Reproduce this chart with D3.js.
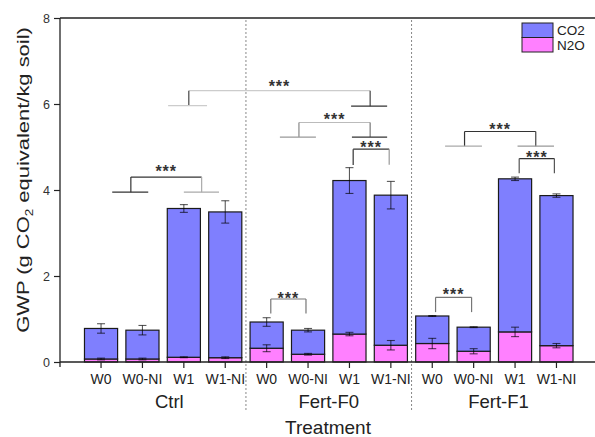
<!DOCTYPE html>
<html>
<head>
<meta charset="utf-8">
<script src="https://cdn.jsdelivr.net/npm/d3@7/dist/d3.min.js"></script>
<style>
  html, body { margin: 0; padding: 0; background: #fff; }
  svg { display: block; font-family: "Liberation Sans", Arial, sans-serif; }
</style>
</head>
<body>
<svg id="chart" width="595" height="437"></svg>
<script>
// Fertiliser groups and water / nitrification-inhibitor treatments
const groups = ["Ctrl", "Fert-F0", "Fert-F1"];
const treatments = ["W0", "W0-NI", "W1", "W1-NI"];

// GWP components (g CO2 equivalent / kg soil), one value per bar, groups in order
const co2Values = [0.71, 0.67, 3.46, 3.39, 0.61, 0.56, 3.57, 3.49, 0.64, 0.56, 3.56, 3.49];
const n2oValues = [0.07, 0.07, 0.11, 0.10, 0.32, 0.18, 0.65, 0.39, 0.43, 0.25, 0.70, 0.38];
// Standard errors: total GWP (top of stack) and the N2O part
const totalErr = [0.11, 0.11, 0.09, 0.26, 0.10, 0.04, 0.30, 0.32, 0.01, 0.01, 0.04, 0.04];
const n2oErr = [0.02, 0.02, 0.01, 0.02, 0.08, 0.02, 0.04, 0.11, 0.12, 0.06, 0.11, 0.05];

const yTicks = [0, 2, 4, 6, 8];
const seriesNames = ["N2O", "CO2"];

// Significance brackets, positioned in bar-index units (x) and GWP units (y)
// legs: [left, right] bar positions; top: bracket height; bottom: leg ends
// feet: short horizontal bars under the legs (group means)
const brackets = [
  { legs: [0.72, 2.43], top: 4.30, bottom: [3.95, 3.95], label: 4.53,
    feet: [[0.27, 1.14, "#333"], [2.0, 2.85, "#aaa"]], line: "#333", legCol: ["#333", "#aaa"] },
  { legs: [2.12, 6.50], top: 6.31, bottom: [5.96, 5.95], label: 6.50,
    feet: [[1.62, 2.56, "#ccc"], [6.04, 6.91, "#333"]], line: "#ccc", legCol: ["#444", "#444"] },
  { legs: [4.78, 6.50], top: 5.57, bottom: [5.23, 5.23], label: 5.73,
    feet: [[4.32, 5.19, "#999"], [6.06, 6.91, "#333"]], line: "#bbb", legCol: ["#888", "#777"] },
  { legs: [6.09, 6.96], top: 4.95, bottom: [4.58, 4.59], label: 5.07,
    feet: [], line: "#333", legCol: ["#333", "#999"] },
  { legs: [4.10, 4.95], top: 1.465, bottom: [1.13, 1.13], label: 1.58,
    feet: [], line: "#777", legCol: ["#777", "#777"] },
  { legs: [8.78, 10.50], top: 5.36, bottom: [5.02, 5.02], label: 5.51,
    feet: [[8.31, 9.20, "#aaa"], [10.06, 10.94, "#999"]], line: "#333", legCol: ["#333", "#444"] },
  { legs: [10.10, 10.95], top: 4.73, bottom: [4.39, 4.39], label: 4.85,
    feet: [], line: "#333", legCol: ["#555", "#555"] },
  { legs: [8.08, 8.95], top: 1.505, bottom: [1.16, 1.16], label: 1.66,
    feet: [], line: "#777", legCol: ["#777", "#777"] }
];

// where each group name sits, in bar-index units from the group's first bar
const groupLabelOffset = [1.65, 1.5, 1.6];

const colors = { CO2: "#7f7ffe", N2O: "#ff80ff" };

const svg = d3.select("#chart");
const margin = { left: 60, top: 18, bottom: 362 };
const width = 595;

// one row per bar
const rows = [];
groups.forEach((g, gi) => treatments.forEach((t, ti) => {
  const i = gi * treatments.length + ti;
  rows.push({ key: g + "|" + t, group: g, treat: t, CO2: co2Values[i], N2O: n2oValues[i],
              err: totalErr[i], n2oErr: n2oErr[i] });
}));

const x = d3.scaleBand()
  .domain(rows.map(d => d.key))
  .range([76.2, 581.3])
  .paddingInner(0.2)
  .paddingOuter(0.2);

const y = d3.scaleLinear().domain([0, 8]).range([margin.bottom, margin.top]);

const xCenter = f => x(rows[0].key) + x.bandwidth() / 2 + f * x.step();

// top frame line
svg.append("line").attr("x1", margin.left).attr("x2", width + 5)
  .attr("y1", y(8)).attr("y2", y(8)).attr("stroke", "#222").attr("stroke-width", 1.3);

// dotted group separators
for (let gi = 1; gi < groups.length; gi++) {
  const xs = xCenter(gi * treatments.length - 0.5);
  svg.append("line").attr("x1", xs).attr("x2", xs)
    .attr("y1", y(8) + 2).attr("y2", 410)
    .attr("stroke", "#888").attr("stroke-width", 1).attr("stroke-dasharray", "2,2");
}

// stacked bars
const stack = d3.stack().keys(seriesNames)(rows);
const barG = svg.append("g");
stack.forEach(layer => {
  barG.selectAll(null).data(layer).join("rect")
    .attr("x", d => x(d.data.key))
    .attr("width", x.bandwidth())
    .attr("y", d => y(d[1]))
    .attr("height", d => y(d[0]) - y(d[1]))
    .attr("fill", colors[layer.key])
    .attr("stroke", "#1a1a1a")
    .attr("stroke-width", 1.2);
});

// error bars
const errG = svg.append("g").attr("stroke", "#000").attr("stroke-opacity", 0.65).attr("stroke-width", 1.1);
function errBar(cx, v, e) {
  const cap = 4;
  errG.append("line").attr("x1", cx).attr("x2", cx).attr("y1", y(v - e)).attr("y2", y(v + e));
  errG.append("line").attr("x1", cx - cap).attr("x2", cx + cap).attr("y1", y(v + e)).attr("y2", y(v + e));
  errG.append("line").attr("x1", cx - cap).attr("x2", cx + cap).attr("y1", y(v - e)).attr("y2", y(v - e));
}
rows.forEach(d => {
  const cx = x(d.key) + x.bandwidth() / 2;
  errBar(cx, d.CO2 + d.N2O, d.err);
  errBar(cx, d.N2O, d.n2oErr);
});

// y axis
const yAxis = svg.append("g").attr("transform", `translate(${margin.left},0)`)
  .call(d3.axisLeft(y).tickValues(yTicks).tickSize(6).tickSizeOuter(0).tickPadding(4));
yAxis.select(".domain").attr("stroke", "#222").attr("stroke-width", 1.3)
  .attr("d", `M0,${y(8)}V${y(0) + 5}`);
yAxis.selectAll(".tick line").attr("stroke", "#222").attr("stroke-width", 1.2);
yAxis.selectAll(".tick text").attr("font-size", 12.5).attr("fill", "#333")
  .attr("font-family", "Liberation Sans, Arial, sans-serif");

// x axis
const xAxis = svg.append("g").attr("transform", `translate(0,${margin.bottom})`)
  .call(d3.axisBottom(x).tickSize(6).tickSizeOuter(0).tickPadding(6)
    .tickFormat(k => k.split("|")[1]));
xAxis.select(".domain").attr("stroke", "#222").attr("stroke-width", 1.3)
  .attr("d", `M${margin.left},0H${width + 5}`);
xAxis.selectAll(".tick line").attr("stroke", "#222").attr("stroke-width", 1.2);
xAxis.selectAll(".tick text").attr("font-size", 14).attr("fill", "#222")
  .attr("font-family", "Liberation Sans, Arial, sans-serif");

// group labels
groups.forEach((g, gi) => {
  svg.append("text")
    .attr("x", xCenter(gi * treatments.length + groupLabelOffset[gi]))
    .attr("y", 408)
    .attr("text-anchor", "middle")
    .attr("font-size", 18.5).attr("fill", "#222")
    .text(g);
});

// axis titles
svg.append("text")
  .attr("x", 328).attr("y", 434)
  .attr("text-anchor", "middle").attr("font-size", 19).attr("fill", "#222")
  .text("Treatment");

// y title: drawn at 17px, then stretched along its run to span the axis
const yTitle = svg.append("text")
  .attr("text-anchor", "middle").attr("font-size", 17).attr("fill", "#222");
yTitle.append("tspan").text("GWP (g CO");
yTitle.append("tspan").attr("font-size", 10.5).attr("dy", 4).text("2");
yTitle.append("tspan").attr("dy", -4).text(" equivalent/kg soil)");
const titleLen = yTitle.node().getBBox().width;
const stretch = 306 / titleLen;
yTitle.attr("transform", `translate(29,180) rotate(-90) scale(${stretch},1)`);

// significance brackets
const brG = svg.append("g").attr("fill", "none").attr("stroke-width", 1.2);
brackets.forEach(b => {
  const [l, r] = b.legs.map(xCenter);
  brG.append("line").attr("x1", l).attr("x2", r).attr("y1", y(b.top)).attr("y2", y(b.top)).attr("stroke", b.line);
  brG.append("line").attr("x1", l).attr("x2", l).attr("y1", y(b.top)).attr("y2", y(b.bottom[0])).attr("stroke", b.legCol[0]);
  brG.append("line").attr("x1", r).attr("x2", r).attr("y1", y(b.top)).attr("y2", y(b.bottom[1])).attr("stroke", b.legCol[1]);
  b.feet.forEach(([a, c, col], k) => {
    const yy = y(b.bottom[k]);
    brG.append("line").attr("x1", xCenter(a)).attr("x2", xCenter(c)).attr("y1", yy).attr("y2", yy).attr("stroke", col);
  });
  svg.append("text")
    .attr("x", (l + r) / 2).attr("y", y(b.label) + 9.5)
    .attr("text-anchor", "middle").attr("font-size", 16).attr("font-weight", "bold")
    .attr("fill", "#333").attr("letter-spacing", 1)
    .text("***");
});

// legend
const legend = svg.append("g");
["CO2", "N2O"].forEach((k, i) => {
  legend.append("rect").attr("x", 522).attr("y", 23 + i * 14.5)
    .attr("width", 31).attr("height", 14.5)
    .attr("fill", colors[k]).attr("stroke", "#222").attr("stroke-width", 1);
  legend.append("text").attr("x", 557).attr("y", 35 + i * 14.5)
    .attr("font-size", 13.5).attr("fill", "#222").text(k);
});
</script>
</body>
</html>
